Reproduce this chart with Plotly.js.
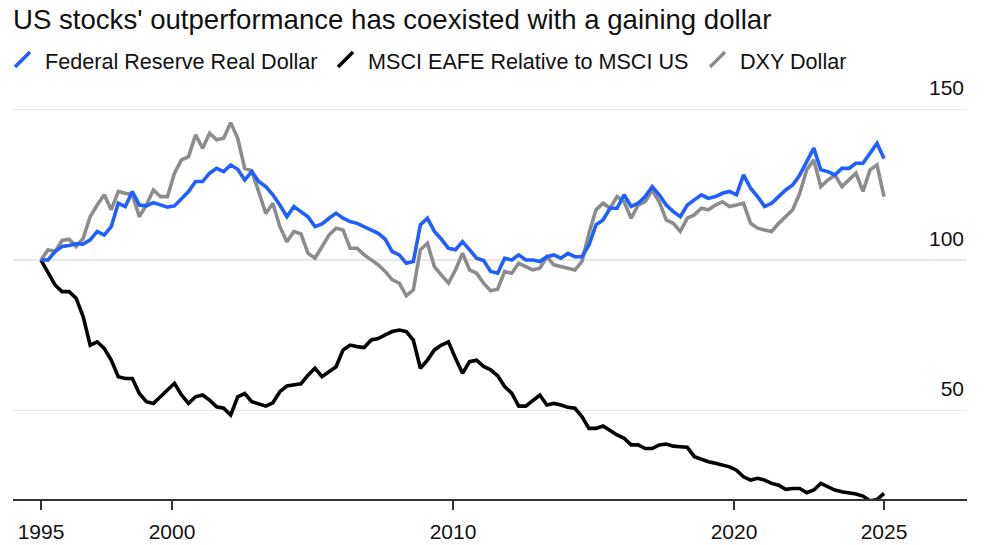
<!DOCTYPE html>
<html>
<head>
<meta charset="utf-8">
<script src="https://cdn.plot.ly/plotly-3.0.1.min.js"></script>
<style>
  html, body { margin: 0; padding: 0; background: #fff; }
  #chart { width: 1000px; height: 545px; }
</style>
</head>
<body>
<div id="chart"></div>
<script>
// quarterly readings, first point ~May 1995
const START_YEAR = 1995.338;
const STEP_YEARS = 0.25;

const SERIES_NAMES = ['Federal Reserve Real Dollar', 'MSCI EAFE Relative to MSCI US', 'DXY Dollar'];

const fedRealDollar = [
  100, 100, 102.8, 104.5, 104.8, 105.4, 105.3, 106.7, 109.5, 108.3,
  111.1, 118.9, 117.8, 122.8, 118.3, 118, 119.1, 118.3, 117.6, 118,
  120.5, 122.8, 126.1, 126.1, 128.9, 130.5, 129.4, 131.6, 130.2, 126.6,
  129.4, 126.1, 124.4, 121.7, 118.3, 114.4, 117.8, 116.1, 114.4, 111.1,
  112, 113.9, 115.6, 113.9, 112.8, 112.2, 111.1, 110, 108.9, 106.9,
  102.8, 101.7, 98.9, 99.5, 111.7, 113.9, 109.5, 106.9, 103.9, 103.4,
  106.1, 103.4, 100.6, 99.8, 96.2, 95.6, 100.6, 100, 101.7, 100,
  100, 99.5, 101.1, 101.7, 100.6, 102.2, 101.1, 101.1, 105, 111.7,
  113.3, 117.2, 117.2, 121.7, 117.8, 118.9, 121.1, 124.4, 121.7, 118.3,
  116.1, 114.4, 118.3, 120, 121.7, 120.5, 121.1, 122.2, 122.8, 121.7,
  128.3, 123.9, 121.1, 117.8, 118.9, 121.1, 123.3, 125, 128.3, 132.7,
  137.2, 130, 129.4, 128.3, 130.5, 130.5, 132.2, 132.2, 135.5, 138.8, 133.8
];

const eafeVsUs = [
  100, 96.1, 91.7, 89.5, 89.5, 87.3, 81.2, 71.7, 72.8, 70.6,
  66.7, 61.2, 60.6, 60.6, 55.6, 52.9, 52.3, 54.5, 56.8, 59,
  55.1, 52.3, 54.5, 55.1, 53.4, 51.2, 50.7, 48.4, 54.5, 55.6,
  52.9, 52.3, 51.4, 52.5, 56.2, 58.1, 58.4, 58.8, 61.7, 64,
  61.2, 62.8, 64.5, 70.1, 71.7, 71.2, 70.9, 73.4, 73.9, 75.1,
  76.2, 76.7, 76.2, 73.4, 64, 66.7, 70.1, 71.7, 72.8, 67.3,
  62.3, 66.2, 66.7, 64.6, 63.5, 61.5, 57.9, 55.7, 51.4, 51.4,
  53.4, 55.1, 51.8, 52.3, 51.8, 51, 50.7, 47.9, 44, 44,
  44.8, 43.2, 41.8, 40.7, 38.5, 38.5, 37.3, 37.3, 38.5, 38.8,
  38.1, 37.9, 37.7, 34.6, 33.7, 32.9, 32.4, 31.8, 31.2, 30.1,
  27.9, 26.8, 27.4, 26.8, 25.7, 25.1, 23.7, 24, 24, 22.6,
  23.5, 25.7, 24.6, 23.5, 22.9, 22.6, 22.2, 21.5, 19.9, 20.3, 22.4
];

const dxyDollar = [
  100, 103.4, 102.8, 106.5, 106.9, 104.5, 107.2, 114.4, 118.3, 121.7,
  116.7, 122.8, 122.2, 121.7, 114.4, 118.3, 123.3, 121.1, 121.1, 128.9,
  133.3, 134.4, 141.6, 137.2, 142.2, 140, 140.5, 145.7, 140.5, 130.5,
  129.7, 122.8, 115.5, 118.9, 111.1, 106.1, 109.5, 108.7, 102.3, 100.6,
  104.5, 108.3, 110.6, 110, 103.9, 103.9, 101.7, 100, 98.4, 96.2,
  93.4, 92.3, 88.1, 90.1, 103.4, 105.6, 97.8, 95, 92.3, 96.7,
  102.3, 96.7, 95.6, 92.3, 89.8, 90.3, 96.2, 95.6, 98.9, 97.8,
  96.7, 97.3, 101.1, 98.4, 97.8, 97.3, 96.7, 99.5, 108.9, 116.7,
  118.9, 117.2, 121.1, 119.4, 113.9, 118.3, 119.4, 123.3, 119.4, 113.3,
  112.2, 109.5, 113.9, 115, 117.2, 116.7, 118.3, 119.4, 117.8, 118.3,
  118.9, 112.2, 110.6, 110, 109.5, 112.2, 114.4, 116.7, 122.2, 130,
  133.3, 124.4, 126.6, 128.3, 124.4, 126.6, 128.9, 122.8, 130, 131.6, 121.1
];

const xTickVals = [1995.338, 2000, 2010, 2020, 2025.338];
const xTickText = ['1995', '2000', '2010', '2020', '2025'];
const yTickVals = [50, 100, 150];

const COLORS = {
  blue: '#1f5eff',
  black: '#000000',
  gray: '#8c8c8c',
  text: '#111111',
  axis: '#333333',
  grid: '#e8e8e8',
};

const FONT = 'Liberation Sans, Arial, sans-serif';

// plot area in page pixels
const M = { l: 13, r: 33, t: 80, b: 46 };
const W = 1000, H = 545;
const px = x => (x - M.l) / (W - M.l - M.r);
const py = y => (H - M.b - y) / (H - M.t - M.b);

function lineTrace(values, name, color) {
  return {
    type: 'scatter',
    mode: 'lines',
    name: name,
    x0: START_YEAR,
    dx: STEP_YEARS,
    y: values,
    line: { color: color, width: 3.6, shape: 'linear' },
    hoverinfo: 'skip',
  };
}

const traces = [
  lineTrace(eafeVsUs, SERIES_NAMES[1], COLORS.black),
  lineTrace(dxyDollar, SERIES_NAMES[2], COLORS.gray),
  lineTrace(fedRealDollar, SERIES_NAMES[0], COLORS.blue),
];

// custom legend: slash swatch + label
const legendItems = [
  { name: SERIES_NAMES[0], color: COLORS.blue, sx: 15, tx: 43 },
  { name: SERIES_NAMES[1], color: COLORS.black, sx: 338, tx: 366 },
  { name: SERIES_NAMES[2], color: COLORS.gray, sx: 710, tx: 738 },
];

const shapes = legendItems.map(it => ({
  type: 'line', xref: 'paper', yref: 'paper',
  x0: px(it.sx), y0: py(67), x1: px(it.sx + 15), y1: py(52),
  line: { color: it.color, width: 3.5 },
}));

// the 50 gridline stops short of the right edge
shapes.push({
  type: 'rect', xref: 'paper', yref: 'y', layer: 'between',
  x0: px(922), x1: 1.01, y0: 49.4, y1: 50.6,
  fillcolor: '#ffffff', line: { width: 0 },
});

const annotations = legendItems.map(it => ({
  xref: 'paper', yref: 'paper',
  x: px(it.tx), y: py(61),
  xanchor: 'left', yanchor: 'middle',
  text: it.name, showarrow: false,
  font: { family: FONT, size: 21.6, color: COLORS.text },
}));

const layout = {
  width: W,
  height: H,
  paper_bgcolor: '#ffffff',
  plot_bgcolor: '#ffffff',
  font: { family: FONT, color: COLORS.text, size: 21 },
  margin: M,
  showlegend: false,
  title: {
    text: "US stocks' outperformance has coexisted with a gaining dollar",
    font: { family: FONT, size: 27.6, color: COLORS.text },
    xref: 'container', yref: 'container',
    x: 13 / W, xanchor: 'left',
    y: 1 - 19 / H, yanchor: 'middle',
  },
  xaxis: {
    range: [1994.342, 2028.29],
    tickmode: 'array',
    tickvals: xTickVals,
    ticktext: xTickText,
    showgrid: false,
    zeroline: false,
    showline: true,
    linecolor: COLORS.axis,
    linewidth: 2,
    ticks: 'outside',
    ticklen: 9,
    tickwidth: 1.5,
    tickcolor: COLORS.axis,
    ticklabelstandoff: 4,
    tickfont: { family: FONT, size: 21, color: COLORS.text },
  },
  yaxis: {
    side: 'right',
    range: [20.51, 159.88],
    tickmode: 'array',
    tickvals: yTickVals,
    showgrid: true,
    gridcolor: COLORS.grid,
    gridwidth: 1.5,
    zeroline: false,
    showline: false,
    ticks: '',
    ticklabelposition: 'inside top',
    ticklabeloverflow: 'allow',
    ticklabelshift: -7,
    tickfont: { family: FONT, size: 21, color: COLORS.text },
  },
  shapes: shapes,
  annotations: annotations,
};

Plotly.newPlot('chart', traces, layout, { displayModeBar: false, staticPlot: true });
</script>
</body>
</html>
